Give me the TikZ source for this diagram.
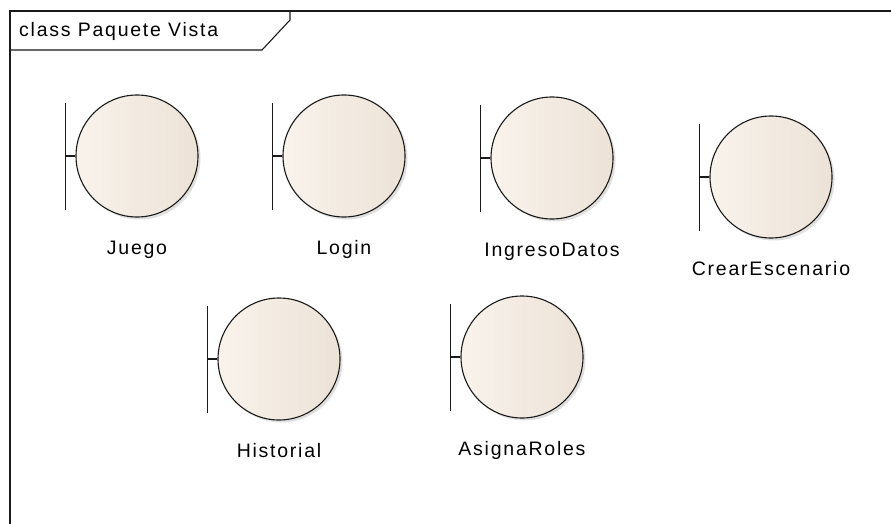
\documentclass[tikz,border=0pt]{standalone}
\usepackage{fontspec}
\setmainfont{Liberation Sans}[LetterSpace=9]
\usetikzlibrary{positioning, shadows}
\definecolor{cBoundL}{HTML}{F9F3EC}
\definecolor{cBoundM}{HTML}{FBF7F2}
\definecolor{cBoundR}{HTML}{ECE2D7}
\definecolor{cLine}{HTML}{1A1A1A}
\tikzset{
  boundary/.style={circle, draw=cLine, line width=1.1pt, minimum size=122pt, inner sep=0pt,
    left color=cBoundL, middle color=cBoundM, right color=cBoundR,
    drop shadow={shadow xshift=2.5pt, shadow yshift=-2.5pt, opacity=0.12, fill=black}},
  boundbar/.style={draw=cLine, line width=1.5pt},
  blabel/.style={font=\fontsize{19.5pt}{21pt}\selectfont, inner sep=0pt,
    text height=14pt, text depth=4pt, anchor=north},
  frameline/.style={draw=cLine, line width=1.5pt},
  tabtitle/.style={font=\fontsize{19.5pt}{21pt}\selectfont, inner sep=0pt, anchor=west},
}

\begin{document}
\begin{tikzpicture}[x=1pt, y=-1pt]

  \useasboundingbox[fill=white] (0,0) rectangle (891,524);

  % ----------------------------------------------------------------
  % Package frame and name tab
  % ----------------------------------------------------------------
  \draw[frameline] (10,524) -- (10,11) -- (891,11);
  \draw[frameline, line width=1.1pt] (10,50) -- (262,50) -- (290,20) -- (290,11);
  \node[tabtitle] (title) at (19,31) {class Paquete Vista};

  % ----------------------------------------------------------------
  % Boundary classes: circle, tick and bar, name below
  % ----------------------------------------------------------------
  \foreach \name/\cx/\cy/\txt in {juego/137/156/Juego, login/344/156/Login,
      ingreso/552/158/IngresoDatos, crear/771/177/CrearEscenario,
      historial/279/359/Historial, asigna/522/357/AsignaRoles} {
    \node[boundary] (\name) at (\cx,\cy) {};
    \coordinate (\name-bar) at ([xshift=-10pt]\name.west);
    \draw[boundbar] (\name.west) -- (\name-bar);
    \draw[boundbar] ([yshift=53pt]\name-bar) -- ([yshift=-54pt]\name-bar);
    \node[blabel, below=23pt of \name] (\name-lbl) {\txt};
  }

\end{tikzpicture}
\end{document}
